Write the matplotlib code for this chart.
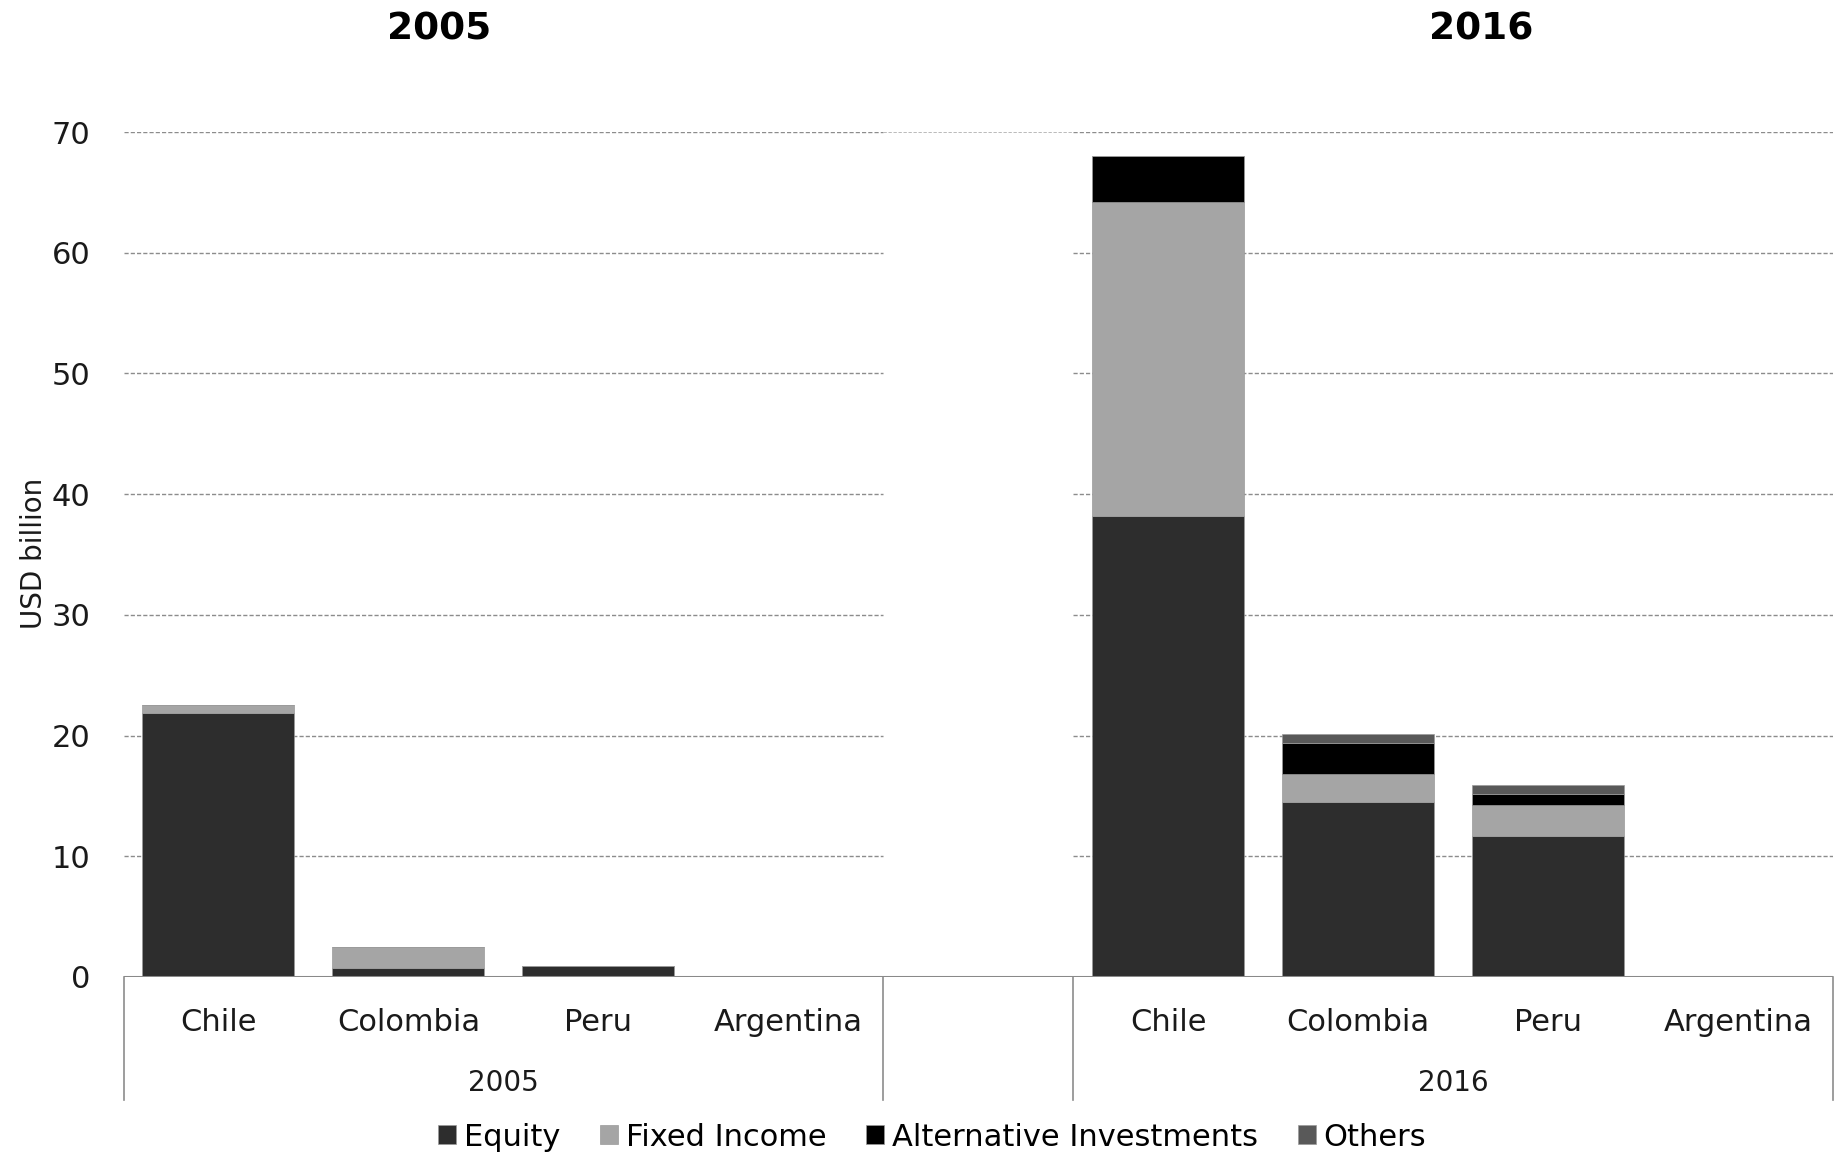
import matplotlib.pyplot as plt
import matplotlib.transforms as mtransforms
import numpy as np

plt.rcParams['font.family'] = ['DejaVu Sans']

countries = ['Chile', 'Colombia', 'Peru', 'Argentina']
years = ['2005', '2016']

# USD billion, per year: Chile, Colombia, Peru, Argentina
equity = {'2005': [21.9, 0.77, 0.9, 0.0], '2016': [38.2, 14.5, 11.7, 0.0]}
fixed_income = {'2005': [0.65, 1.74, 0.05, 0.0], '2016': [26.0, 2.35, 2.55, 0.0]}
alternative = {'2005': [0.0, 0.0, 0.0, 0.0], '2016': [3.85, 2.55, 0.93, 0.0]}
others = {'2005': [0.0, 0.0, 0.0, 0.0], '2016': [0.0, 0.7, 0.75, 0.0]}

series = [('Equity', equity, '#2d2d2d'),
          ('Fixed Income', fixed_income, '#a5a5a5'),
          ('Alternative Investments', alternative, '#000000'),
          ('Others', others, '#595959')]

yticks = [0, 10, 20, 30, 40, 50, 60, 70]

W, H = 1845, 1156
fig = plt.figure(figsize=(W / 100, H / 100), dpi=100)
ax = fig.add_axes([123.5 / W, 1 - 977 / H, (1833 - 123.5) / W, (977 - 132) / H])

# slot positions: 4 countries, one empty slot, 4 countries
slots = {'2005': np.arange(4), '2016': np.arange(5, 9)}

for year in years:
    bottom = np.zeros(len(countries))
    for name, data, color in series:
        vals = np.array(data[year])
        ax.bar(slots[year], vals, width=0.8, bottom=bottom, color=color,
               edgecolor='#9a9a9a', linewidth=0.5, zorder=3,
               label=name if year == '2005' else None)
        bottom += vals

ax.set_xlim(-0.5, 8.5)
ax.set_ylim(0, 70)

# dashed gridlines, broken over the empty slot
grid_kw = dict(color='#8c8c8c', linestyle=(0, (3, 1.5)), linewidth=1.0, zorder=1)
for y in yticks[1:]:
    ax.plot([-0.5, 3.5], [y, y], **grid_kw)
    ax.plot([4.5, 8.5], [y, y], **grid_kw)
ax.plot([3.5, 4.5], [70, 70], color='#b0b0b0', linestyle=(0, (4, 2)),
        linewidth=0.6, zorder=1)

for s in ax.spines.values():
    s.set_visible(False)
ax.axhline(0, color='#898989', linewidth=2.2, zorder=4)

ax.set_yticks(yticks)
ax.set_yticklabels([str(v) for v in yticks], fontsize=22, color='#1a1a1a')
ax.tick_params(axis='y', length=0, pad=24)
ax.set_xticks([])

# two-level category axis
trans = mtransforms.blended_transform_factory(ax.transData, ax.transAxes)
for x in [-0.5, 3.5, 4.5, 8.5]:
    ax.plot([x, x], [0, -0.1456], transform=trans, color='#8c8c8c',
            linewidth=1.2, clip_on=False)
for year in years:
    for x, c in zip(slots[year], countries):
        ax.text(x, -0.054, c, transform=trans, ha='center', va='center',
                fontsize=22, color='#1a1a1a')
    ax.text(slots[year].mean(), -0.126, year, transform=trans, ha='center',
            va='center', fontsize=20, color='#1a1a1a')

fig.text(439 / W, 1 - 29 / H, '2005', ha='center', va='center',
         fontsize=27, fontweight='bold')
fig.text(1481 / W, 1 - 29 / H, '2016', ha='center', va='center',
         fontsize=27, fontweight='bold')
fig.text(34 / W, 1 - 553 / H, 'USD billion', rotation=90, ha='center',
         va='center', fontsize=20, color='#1a1a1a')

fig.legend(loc='center', bbox_to_anchor=(932 / W, 1 - 1137 / H), ncol=4,
           frameon=False, fontsize=22, handlelength=0.6, handleheight=0.6,
           handletextpad=0.25, columnspacing=1.3)

fig.savefig('out.png', dpi=100)
